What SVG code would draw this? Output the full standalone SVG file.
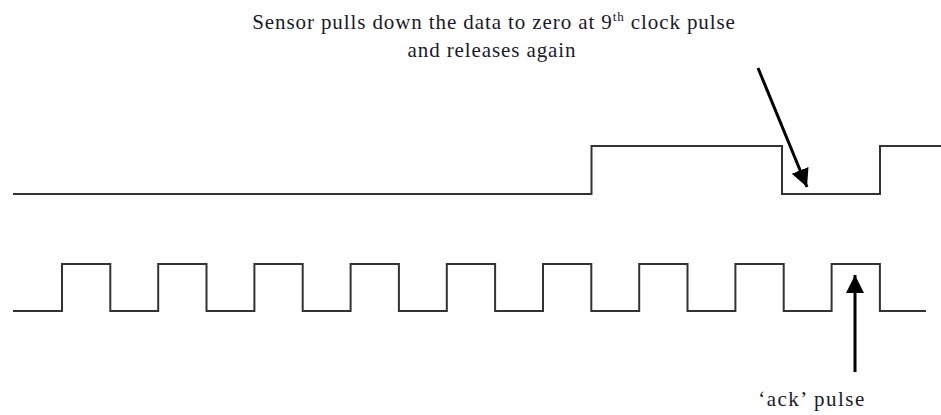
<svg xmlns="http://www.w3.org/2000/svg" width="941" height="415" viewBox="0 0 941 415">
  <style>
    .wave { fill: none; stroke: #333333; stroke-width: 2; stroke-linejoin: miter; }
    .arrow { fill: none; stroke: #000000; stroke-width: 3; }
    .label { font-family: "Liberation Serif", "Times New Roman", serif; font-size: 21px; letter-spacing: 0.9px; fill: #1a1a2a; }
  </style>
  <defs>
    <marker id="head" markerUnits="userSpaceOnUse" markerWidth="20" markerHeight="20" refX="18" refY="9" orient="auto">
      <path d="M0,0 L18,9 L0,18 Z" fill="#000000"/>
    </marker>
  </defs>

  <g id="data-signal">
    <path class="wave" d="M13,194 H591.5 V146 H782 V194 H880 V146 H941"/>
  </g>

  <g id="clock-signal">
    <path class="wave" d="M13,311 H62 V264 H110.3 V311 H158.2 V264 H206.5 V311 H254.4 V264 H302.7 V311 H350.6 V264 H398.9 V311 H446.8 V264 H495.1 V311 H543 V264 H591.3 V311 H639.2 V264 H687.5 V311 H735.4 V264 H783.7 V311 H831.6 V264 H879.9 V311 H926"/>
  </g>

  <g id="annotation-top">
    <text class="label" x="494" y="29" text-anchor="middle">Sensor pulls down the data to zero at 9<tspan font-size="13" dy="-8">th</tspan><tspan dy="8"> clock pulse</tspan></text>
    <text class="label" x="492" y="57" text-anchor="middle">and releases again</text>
  </g>

  <g id="annotation-ack">
    <text class="label" x="812" y="406" text-anchor="middle" style="letter-spacing:1.5px">‘ack’  pulse</text>
  </g>

  <g id="connectors">
    <line class="arrow" x1="758" y1="68" x2="807" y2="187" marker-end="url(#head)"/>
    <line class="arrow" x1="855" y1="372" x2="855" y2="275" marker-end="url(#head)"/>
  </g>
</svg>
